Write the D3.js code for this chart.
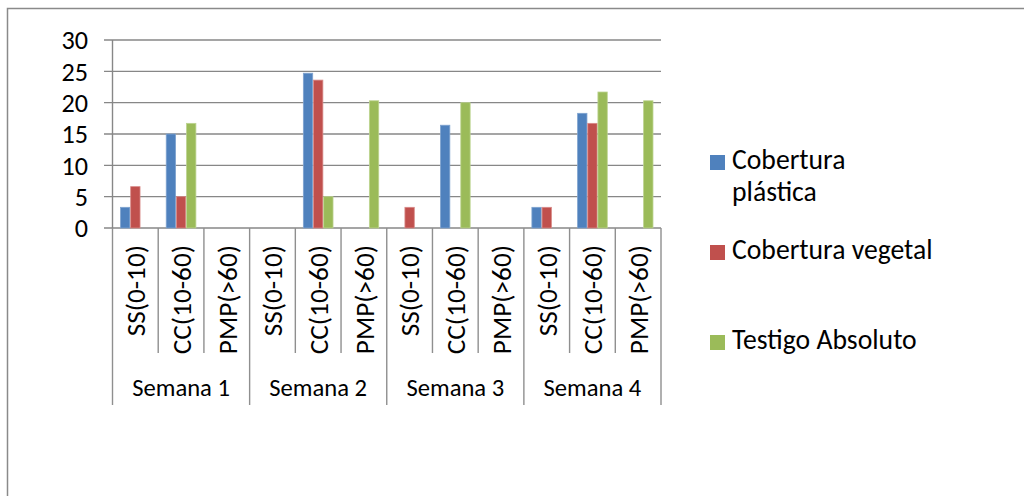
<!DOCTYPE html>
<html><head><meta charset="utf-8">
<script src="https://cdn.jsdelivr.net/npm/d3@7"></script>
<style>html,body{margin:0;padding:0;background:#fff;overflow:hidden}</style>
</head><body>
<svg id="c" width="1024" height="496"></svg>
<script>
const groups = ["Semana 1","Semana 2","Semana 3","Semana 4"];
const depths = ["SS(0-10)","CC(10-60)","PMP(>60)"];
const seriesNames = ["Cobertura plástica","Cobertura vegetal","Testigo Absoluto"];
const plastica = [3.3,15,0, 0,24.7,0, 0,16.4,0, 3.3,18.3,0];
const vegetal  = [6.6,5,0, 0,23.6,0, 3.3,0,0, 3.3,16.7,0];
const testigo  = [0,16.7,0, 0,5,20.3, 0,20,0, 0,21.7,20.3];
const yTicks = [0,5,10,15,20,25,30];
const colors = ["#4F81BD","#C0504D","#9BBB59"];
const edges  = ["#7fa3cf","#d88a88","#bcd38f"];

const svg = d3.select("#c");
const FONT = "Carlito, Lato, sans-serif";

function fit(text, target){
  const t = svg.append("text").attr("font-family",FONT).attr("font-size",100).text(text);
  const w = t.node().getComputedTextLength(); t.remove();
  return 100*target/w*1.04;
}

// outer border
svg.append("rect").attr("x",7.5).attr("y",8.5).attr("width",1040).attr("height",520)
  .attr("fill","none").attr("stroke","#8a8a8a").attr("stroke-width",1.5);

const cats = [];
groups.forEach(g=>depths.forEach(d=>cats.push(g+"|"+d)));
const left=112.5, right=661, y0=228, y30=40;
const x = d3.scaleBand().domain(cats).range([left,right]).padding(0);
const step = x.step();
const x1 = d3.scaleBand().domain(seriesNames).range([step/6, step-step/6]).padding(0);
const y = d3.scaleLinear().domain([0,30]).range([y0,y30]);

// gridlines
svg.append("g").selectAll("line").data(yTicks).join("line")
  .attr("x1",104).attr("x2",right).attr("y1",d=>y(d)).attr("y2",d=>y(d))
  .attr("stroke","#878787").attr("stroke-width",1.4);
// y axis line
svg.append("line").attr("x1",left).attr("x2",left).attr("y1",y30).attr("y2",y0)
  .attr("stroke","#878787").attr("stroke-width",1.4);

// y labels
const yfs = fit("30",25.5);
svg.append("g").selectAll("text").data(yTicks).join("text")
  .attr("x",88).attr("y",d=>y(d)).attr("dy","0.36em").attr("text-anchor","end")
  .attr("font-family",FONT).attr("font-size",yfs).attr("fill","#000").text(d=>d);

// category separators
const sepX = cats.map((c,i)=>({x:x(c),group:i%3===0}));
sepX.push({x:right,group:true});
svg.append("g").selectAll("line").data(sepX).join("line")
  .attr("x1",d=>d.x).attr("x2",d=>d.x).attr("y1",y0).attr("y2",d=>d.group?405:353)
  .attr("stroke","#8f8f8f").attr("stroke-width",1.4);

// bars
const seriesData = [plastica,vegetal,testigo];
seriesData.forEach((vals,si)=>{
  svg.append("g").selectAll("rect").data(vals.filter(v=>true).map((v,i)=>({v,c:cats[i]})).filter(d=>d.v>0)).join("rect")
    .attr("x",d=>x(d.c)+x1(seriesNames[si])+0.4)
    .attr("width",x1.bandwidth()-0.8)
    .attr("y",d=>y(d.v)).attr("height",d=>y(0)-y(d.v))
    .attr("fill",colors[si]).attr("stroke",edges[si]).attr("stroke-width",0.8);
});

// rotated category labels
const cfs = fit("CC(10-60)",105);
svg.append("g").selectAll("text").data(cats).join("text")
  .attr("transform",c=>`translate(${x(c)+step/2},245) rotate(-90)`)
  .attr("text-anchor","end").attr("dy","0.36em")
  .attr("font-family",FONT).attr("font-size",cfs).attr("fill","#000")
  .text(c=>c.split("|")[1]);

// group labels
const gfs = fit("Semana 1",94);
svg.append("g").selectAll("text").data(groups).join("text")
  .attr("x",(g,i)=>(x(cats[i*3])+x(cats[i*3+2])+step)/2).attr("y",396)
  .attr("text-anchor","middle").attr("font-family",FONT).attr("font-size",gfs).attr("fill","#000")
  .text(g=>g);

// legend
const lfs = fit("Cobertura vegetal",193);
const legendItems = [
  {lines:["Cobertura","plástica"], top:155},
  {lines:["Cobertura vegetal"], top:245},
  {lines:["Testigo Absoluto"], top:335}
];
const lg = svg.append("g");
legendItems.forEach((it,i)=>{
  lg.append("rect").attr("x",710).attr("y",it.top).attr("width",15).attr("height",15).attr("fill",colors[i]);
  it.lines.forEach((ln,j)=>{
    lg.append("text").attr("x",732).attr("y",it.top+14+j*32)
      .attr("font-family",FONT).attr("font-size",lfs).attr("fill","#000").text(ln);
  });
});
</script>
</body></html>
